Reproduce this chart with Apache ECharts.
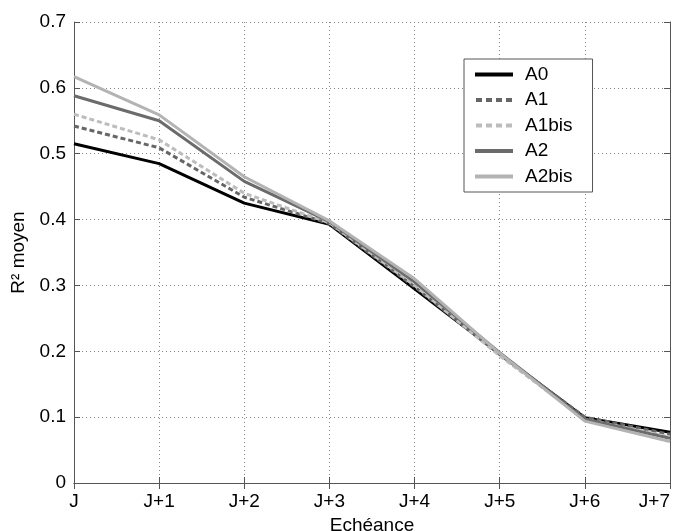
<!DOCTYPE html>
<html><head><meta charset="utf-8">
<script src="https://cdn.jsdelivr.net/npm/echarts@6/dist/echarts.min.js"></script>
<style>html,body{margin:0;padding:0;background:#fff}#c{width:678px;height:531px}</style>
</head><body><div id="c"></div>
<script>
const categories = ['J','J+1','J+2','J+3','J+4','J+5','J+6','J+7'];
const A0     = [0.515, 0.485, 0.425, 0.393, 0.295, 0.196, 0.099, 0.077];
const A1     = [0.542, 0.509, 0.434, 0.394, 0.298, 0.195, 0.100, 0.074];
const A1bis  = [0.560, 0.521, 0.440, 0.395, 0.300, 0.193, 0.097, 0.070];
const A2     = [0.588, 0.550, 0.458, 0.397, 0.305, 0.198, 0.097, 0.068];
const A2bis  = [0.617, 0.559, 0.465, 0.398, 0.310, 0.197, 0.094, 0.063];
const yTicks = [0, 0.1, 0.2, 0.3, 0.4, 0.5, 0.6, 0.7];

const font = 'Liberation Sans, Arial, sans-serif';
const FS = 19;
const chart = echarts.init(document.getElementById('c'));
function s(name, data, color, type){
  return {name, type:'line', data, symbol:'none', xAxisIndex:0, yAxisIndex:0,
    lineStyle:{color, width:3, type}, itemStyle:{color}, z:5};
}
const solidIcon = 'path://M0,0h38v4h-38z';
const dashIcon = 'path://M0,0h6v4h-6z M10,0h6v4h-6z M20,0h6v4h-6z M30,0h6v4h-6z';
chart.setOption({
  animation:false,
  backgroundColor:'#fff',
  grid:{left:74, right:8, top:22, bottom:48, containLabel:false, outerBoundsMode:'none'},
  legend:{
    orient:'vertical', left:464, top:59,
    backgroundColor:'#fff', borderColor:'#555', borderWidth:1,
    padding:[6,20,6,11], itemGap:6.5, itemWidth:38, itemHeight:4,
    textStyle:{fontFamily:font, fontSize:FS, color:'#000', padding:[0,0,0,7], lineHeight:18},
    data:[
      {name:'A0', icon:solidIcon},
      {name:'A1', icon:dashIcon},
      {name:'A1bis', icon:dashIcon},
      {name:'A2', icon:solidIcon},
      {name:'A2bis', icon:solidIcon}
    ]
  },
  xAxis:[{
    type:'category', data:categories, boundaryGap:false,
    name:'Echéance', nameLocation:'middle', nameGap:31,
    nameTextStyle:{fontFamily:font, fontSize:FS, color:'#000'},
    axisLine:{lineStyle:{color:'#555', width:1}},
    axisTick:{inside:true, length:6, lineStyle:{color:'#555'}},
    axisLabel:{fontFamily:font, fontSize:FS, color:'#000', margin:9, alignMaxLabel:'right'},
    splitLine:{show:true, lineStyle:{color:'#888', type:[1,3], width:1}}
  },{
    type:'category', data:categories, boundaryGap:false, position:'top',
    axisLine:{lineStyle:{color:'#555'}},
    axisTick:{inside:true, length:6, lineStyle:{color:'#555'}},
    axisLabel:{show:false}, splitLine:{show:false}
  }],
  yAxis:[{
    type:'value', min:0, max:0.7, interval:0.1,
    name:'R² moyen', nameLocation:'middle', nameGap:43, nameRotate:90,
    nameTextStyle:{fontFamily:font, fontSize:FS, color:'#000'},
    axisLine:{show:true, lineStyle:{color:'#555'}},
    axisTick:{show:true, inside:true, length:6, lineStyle:{color:'#555'}},
    axisLabel:{fontFamily:font, fontSize:FS, color:'#000', margin:8,
      formatter:v=>{const t=yTicks.find(x=>Math.abs(x-v)<1e-9);return t===undefined?'':String(t);}},
    splitLine:{show:true, lineStyle:{color:'#888', type:[1,3], width:1}}
  },{
    type:'value', min:0, max:0.7, interval:0.1, position:'right',
    axisLine:{show:true, lineStyle:{color:'#555'}},
    axisTick:{show:true, inside:true, length:6, lineStyle:{color:'#555'}},
    axisLabel:{show:false}, splitLine:{show:false}
  }],
  series:[
    s('A0', A0, '#000000', 'solid'),
    s('A1', A1, '#666666', [5,3]),
    s('A1bis', A1bis, '#bdbdbd', [5,3]),
    s('A2', A2, '#6b6b6b', 'solid'),
    s('A2bis', A2bis, '#b3b3b3', 'solid')
  ]
});
</script></body></html>
